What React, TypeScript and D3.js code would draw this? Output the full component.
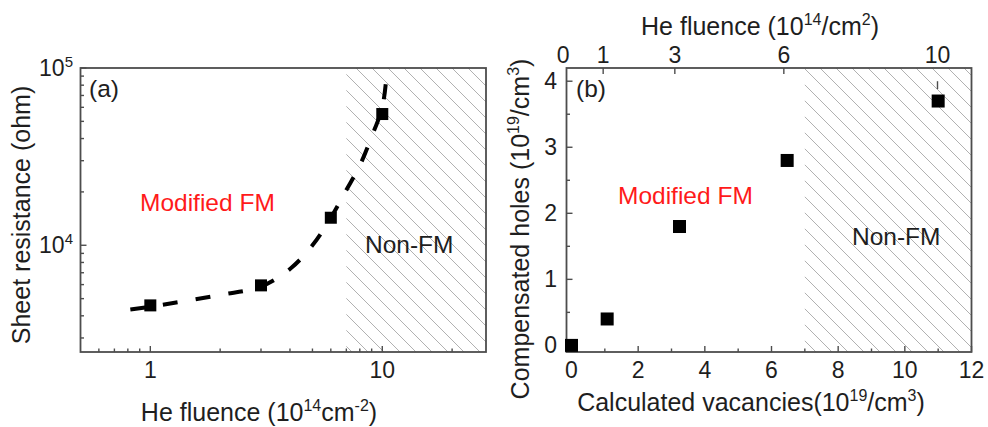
import React from 'react';
import * as d3 from 'd3';

// ---------- Panel (a) data ----------
const fluenceA = [1, 3, 6, 10];
const resistanceA = [4580, 5940, 14300, 55000];
const fitFluence = [0.82, 1, 2, 3, 4, 5, 6, 7, 8, 9, 10, 10.4];
const fitResistance = [4340, 4500, 5250, 5850, 7350, 10000, 14300, 20500, 28200, 41000, 60000, 87000];
const nonFmStartA = 7;
const xMajorA = [1, 10];
const xMinorA = [0.6, 0.7, 0.8, 0.9, 2, 3, 4, 5, 6, 7, 8, 9, 20];
const yMajorA = [1e4, 1e5];
const yMajorExpA = ['4', '5'];
const yMinorA = [3000, 4000, 5000, 6000, 7000, 8000, 9000, 20000, 30000, 40000, 50000, 60000, 70000, 80000, 90000];

// ---------- Panel (b) data ----------
const vacancies = [0, 1.07, 3.24, 6.47, 11.0];
const holes = [0, 0.4, 1.8, 2.8, 3.7];
const topFluenceLabels = ['0', '1', '3', '6', '10'];
const topFluencePos = [-0.25, 0.95, 3.1, 6.37, 10.98];
const xMajorB = [0, 2, 4, 6, 8, 10, 12];
const xMinorB = [1, 3, 5, 7, 9, 11];
const yMajorB = [0, 1, 2, 3, 4];
const yMinorB = [0.5, 1.5, 2.5, 3.5];
const nonFmStartB = 7;

const FONT = '"Liberation Sans", Arial, Helvetica, sans-serif';
const AXIS = '#4d4d4d';
const TXT = '#1e1e1e';
const TICKFS = 23;

const top = 68, bottom = 352;

const xA = d3.scaleLog().domain([0.5, 28]).range([80.5, 486]);
const yA = d3.scaleLog().domain([2500, 100000]).range([bottom, top]);
const xB = d3.scaleLinear().domain([-0.15, 12]).range([566.5, 971.5]);
const yB = d3.scaleLinear().domain([-0.1, 4.2]).range([bottom, top]);

type Part = { t: string; sup?: boolean };

function SupText({ parts, size, supSize, raise, ...rest }: any) {
  const out: any[] = [];
  let prevSup = false;
  parts.forEach((p: Part, i: number) => {
    let dy = 0;
    if (p.sup && !prevSup) dy = -raise;
    if (!p.sup && prevSup) dy = raise;
    out.push(
      <tspan key={i} dy={dy} fontSize={p.sup ? supSize : size}>
        {p.t}
      </tspan>
    );
    prevSup = !!p.sup;
  });
  return (
    <text fontFamily={FONT} fill={TXT} fontSize={size} {...rest}>
      {out}
    </text>
  );
}

export default function App() {
  const curve = d3
    .line<number>()
    .x((_, i) => xA(fitFluence[i]))
    .y((d) => yA(d))
    .curve(d3.curveCatmullRom.alpha(0.5));
  const curvePath = curve(fitResistance) || '';

  const sq = 12;
  const ticks: any[] = [];
  xMajorA.forEach((v, i) =>
    ticks.push(<line key={'xaM' + i} x1={xA(v)} x2={xA(v)} y1={bottom} y2={bottom - 6} />)
  );
  xMinorA.forEach((v, i) =>
    ticks.push(<line key={'xam' + i} x1={xA(v)} x2={xA(v)} y1={bottom} y2={bottom - 3.5} />)
  );
  yMajorA.forEach((v, i) =>
    ticks.push(<line key={'yaM' + i} x1={80.5} x2={86.5} y1={yA(v)} y2={yA(v)} />)
  );
  yMinorA.forEach((v, i) =>
    ticks.push(<line key={'yam' + i} x1={80.5} x2={84} y1={yA(v)} y2={yA(v)} />)
  );
  xMajorB.forEach((v, i) =>
    ticks.push(<line key={'xbM' + i} x1={xB(v)} x2={xB(v)} y1={bottom} y2={bottom - 6} />)
  );
  xMinorB.forEach((v, i) =>
    ticks.push(<line key={'xbm' + i} x1={xB(v)} x2={xB(v)} y1={bottom} y2={bottom - 3.5} />)
  );
  yMajorB.forEach((v, i) =>
    ticks.push(<line key={'ybM' + i} x1={566.5} x2={572.5} y1={yB(v)} y2={yB(v)} />)
  );
  yMinorB.forEach((v, i) =>
    ticks.push(<line key={'ybm' + i} x1={566.5} x2={570} y1={yB(v)} y2={yB(v)} />)
  );
  topFluencePos.slice(1, 4).forEach((v, i) =>
    ticks.push(<line key={'tb' + i} x1={xB(v)} x2={xB(v)} y1={top} y2={top + 6} />)
  );
  ticks.push(
    <line key="tb10" x1={xB(topFluencePos[4])} x2={xB(topFluencePos[4])} y1={yB(4.0)} y2={yB(3.88)} />
  );

  return (
    <svg
      width={988}
      height={427}
      viewBox="0 0 988 427"
      style={{ position: 'absolute', left: 0, top: 0, background: '#fff' }}
    >
      <defs>
        <pattern id="hatch" patternUnits="userSpaceOnUse" width={16} height={16}>
          <line x1={-4} y1={-4} x2={20} y2={20} stroke="#a8a8a8" strokeWidth={0.9} />
          <line x1={-4} y1={12} x2={4} y2={20} stroke="#a8a8a8" strokeWidth={0.9} />
          <line x1={12} y1={-4} x2={20} y2={4} stroke="#a8a8a8" strokeWidth={0.9} />
        </pattern>
      </defs>
      <rect width={988} height={427} fill="#fff" />

      <rect x={xA(nonFmStartA)} y={top} width={486 - xA(nonFmStartA)} height={bottom - top} fill="url(#hatch)" />
      <rect x={xB(nonFmStartB)} y={top} width={971.5 - xB(nonFmStartB)} height={bottom - top} fill="url(#hatch)" />

      <rect x={80.5} y={top} width={486 - 80.5} height={bottom - top} fill="none" stroke={AXIS} strokeWidth={1.8} />
      <rect x={566.5} y={top} width={971.5 - 566.5} height={bottom - top} fill="none" stroke={AXIS} strokeWidth={1.8} />
      <g stroke={AXIS} strokeWidth={1.4}>{ticks}</g>

      <path d={curvePath} fill="none" stroke="#000" strokeWidth={4} strokeDasharray="15 18" />
      {fluenceA.map((f, i) => (
        <rect key={'pa' + i} x={xA(f) - sq / 2} y={yA(resistanceA[i]) - sq / 2} width={sq} height={sq} fill="#000" />
      ))}

      {vacancies.map((v, i) => (
        <rect key={'pb' + i} x={xB(v) - 6.5} y={yB(holes[i]) - 6.5} width={13} height={13} fill="#000" />
      ))}

      <text x={89} y={97} fontFamily={FONT} fontSize={24.5} fill={TXT}>(a)</text>
      <text x={140} y={211} fontFamily={FONT} fontSize={24.5} fill="#ff1a1a">Modified FM</text>
      <text x={365} y={253} fontFamily={FONT} fontSize={24.5} fill={TXT}>Non-FM</text>
      {xMajorA.map((v, i) => (
        <text key={'xla' + i} x={xA(v)} y={378} textAnchor="middle" fontFamily={FONT} fontSize={TICKFS} fill={TXT}>
          {String(v)}
        </text>
      ))}
      {yMajorA.map((v, i) => (
        <SupText
          key={'yla' + i}
          x={73}
          y={yA(v) + 8}
          textAnchor="end"
          size={TICKFS}
          supSize={15}
          raise={9}
          parts={[{ t: '10' }, { t: yMajorExpA[i], sup: true }]}
        />
      ))}
      <SupText
        x={259}
        y={421}
        textAnchor="middle"
        size={25}
        supSize={16}
        raise={10}
        parts={[{ t: 'He fluence (10' }, { t: '14', sup: true }, { t: 'cm' }, { t: '-2', sup: true }, { t: ')' }]}
      />
      <text
        transform="translate(30,215) rotate(-90)"
        textAnchor="middle"
        fontFamily={FONT}
        fontSize={25}
        fill={TXT}
      >
        Sheet resistance (ohm)
      </text>

      <text x={576} y={97} fontFamily={FONT} fontSize={24.5} fill={TXT}>(b)</text>
      <text x={618} y={204} fontFamily={FONT} fontSize={24.5} fill="#ff1a1a">Modified FM</text>
      <text x={852} y={245} fontFamily={FONT} fontSize={24.5} fill={TXT}>Non-FM</text>
      {xMajorB.map((v, i) => (
        <text key={'xlb' + i} x={xB(v)} y={378} textAnchor="middle" fontFamily={FONT} fontSize={TICKFS} fill={TXT}>
          {String(v)}
        </text>
      ))}
      {yMajorB.map((v, i) => (
        <text key={'ylb' + i} x={557} y={yB(v) + 8} textAnchor="end" fontFamily={FONT} fontSize={TICKFS} fill={TXT}>
          {String(v)}
        </text>
      ))}
      {topFluenceLabels.map((l, i) => (
        <text key={'tlb' + i} x={xB(topFluencePos[i])} y={63} textAnchor="middle" fontFamily={FONT} fontSize={TICKFS} fill={TXT}>
          {l}
        </text>
      ))}
      <SupText
        x={760}
        y={35}
        textAnchor="middle"
        size={25}
        supSize={16}
        raise={10}
        parts={[{ t: 'He fluence (10' }, { t: '14', sup: true }, { t: '/cm' }, { t: '2', sup: true }, { t: ')' }]}
      />
      <SupText
        x={751}
        y={411}
        textAnchor="middle"
        size={25}
        supSize={16}
        raise={10}
        parts={[{ t: 'Calculated vacancies(10' }, { t: '19', sup: true }, { t: '/cm' }, { t: '3', sup: true }, { t: ')' }]}
      />
      <SupText
        transform="translate(529,229) rotate(-90)"
        x={0}
        y={0}
        textAnchor="middle"
        size={25}
        supSize={16}
        raise={10}
        parts={[{ t: 'Compensated holes (10' }, { t: '19', sup: true }, { t: '/cm' }, { t: '3', sup: true }, { t: ')' }]}
      />
    </svg>
  );
}
